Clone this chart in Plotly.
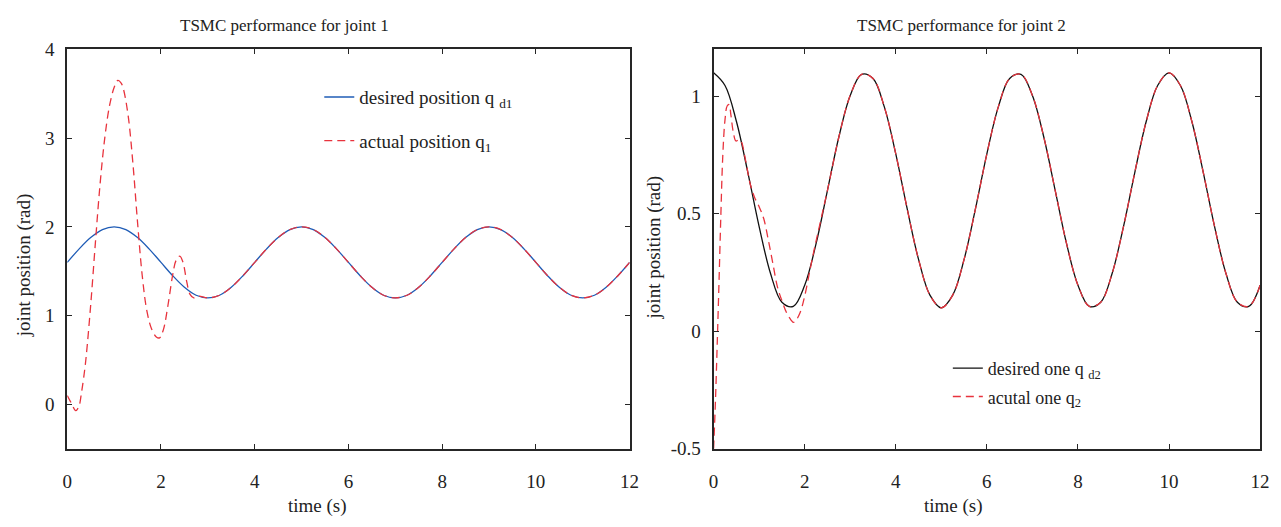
import plotly.graph_objects as go

# ---------------- joint 1 ----------------
t_q1d = [i * 0.25 for i in range(49)]
q1_desired = [1.60, 1.75, 1.88, 1.97, 2.00, 1.97, 1.88, 1.75, 1.60, 1.45, 1.32, 1.23,
              1.20, 1.23, 1.32, 1.45, 1.60, 1.75, 1.88, 1.97, 2.00, 1.97, 1.88, 1.75,
              1.60, 1.45, 1.32, 1.23, 1.20, 1.23, 1.32, 1.45, 1.60, 1.75, 1.88, 1.97,
              2.00, 1.97, 1.88, 1.75, 1.60, 1.45, 1.32, 1.23, 1.20, 1.23, 1.32, 1.45,
              1.60]

t_q1a = [0.00, 0.05, 0.10, 0.18, 0.25, 0.30, 0.35, 0.40, 0.50, 0.60, 0.70, 0.80,
         0.90, 1.00, 1.08, 1.15, 1.20, 1.30, 1.40, 1.50, 1.60, 1.70, 1.80, 1.90,
         1.97, 2.05, 2.15, 2.25, 2.32, 2.40, 2.47, 2.55, 2.62, 2.70, 2.80,
         3.00, 3.25, 3.50, 3.75, 4.00, 4.25, 4.50, 4.75, 5.00, 5.25, 5.50, 5.75,
         6.00, 6.25, 6.50, 6.75, 7.00, 7.25, 7.50, 7.75, 8.00, 8.25, 8.50, 8.75,
         9.00, 9.25, 9.50, 9.75, 10.00, 10.25, 10.50, 10.75, 11.00, 11.25, 11.50,
         11.75, 12.00]
q1_actual = [0.10, 0.05, 0.00, -0.07, -0.02, 0.12, 0.30, 0.52, 1.12, 1.82, 2.48, 3.00,
             3.36, 3.57, 3.65, 3.62, 3.55, 3.25, 2.72, 2.05, 1.45, 1.05, 0.85, 0.76,
             0.75, 0.84, 1.12, 1.46, 1.62, 1.67, 1.60, 1.38, 1.24, 1.20, 1.22,
             1.20, 1.23, 1.32, 1.45, 1.60, 1.75, 1.88, 1.97, 2.00, 1.97, 1.88, 1.75,
             1.60, 1.45, 1.32, 1.23, 1.20, 1.23, 1.32, 1.45, 1.60, 1.75, 1.88, 1.97,
             2.00, 1.97, 1.88, 1.75, 1.60, 1.45, 1.32, 1.23, 1.20, 1.23, 1.32,
             1.45, 1.60]

# ---------------- joint 2 ----------------
t_q2d = [i * 0.25 for i in range(49)]
q2_desired = [1.100, 1.046, 0.894, 0.678, 0.446, 0.246, 0.124, 0.106, 0.196, 0.373,
              0.600, 0.827, 1.004, 1.094, 1.076, 0.954, 0.755, 0.522, 0.306, 0.154,
              0.100, 0.154, 0.306, 0.522, 0.755, 0.954, 1.076, 1.094, 1.004, 0.827,
              0.600, 0.373, 0.196, 0.106, 0.124, 0.246, 0.446, 0.678, 0.894, 1.046,
              1.100, 1.046, 0.894, 0.678, 0.446, 0.246, 0.124, 0.106, 0.196]

t_q2a = [0.00, 0.04, 0.08, 0.12, 0.16, 0.20, 0.25, 0.30, 0.34, 0.38, 0.43, 0.49,
         0.55, 0.60, 0.70, 0.80, 0.90, 1.00, 1.10, 1.20, 1.30, 1.40, 1.50, 1.60,
         1.70, 1.75, 1.80, 1.90, 2.00, 2.10, 2.20,
         2.50, 2.75, 3.00, 3.25, 3.50, 3.75, 4.00, 4.25, 4.50, 4.75, 5.00, 5.25,
         5.50, 5.75, 6.00, 6.25, 6.50, 6.75, 7.00, 7.25, 7.50, 7.75, 8.00, 8.25,
         8.50, 8.75, 9.00, 9.25, 9.50, 9.75, 10.00, 10.25, 10.50, 10.75, 11.00,
         11.25, 11.50, 11.75, 12.00]
q2_actual = [-0.50, -0.30, -0.05, 0.22, 0.50, 0.74, 0.90, 0.96, 0.965, 0.92, 0.85, 0.81,
             0.815, 0.81, 0.73, 0.63, 0.57, 0.53, 0.48, 0.39, 0.29, 0.19, 0.13, 0.08,
             0.048, 0.038, 0.044, 0.08, 0.15, 0.245, 0.34,
             0.600, 0.827, 1.004, 1.094, 1.076, 0.954, 0.755, 0.522, 0.306, 0.154,
             0.100, 0.154, 0.306, 0.522, 0.755, 0.954, 1.076, 1.094, 1.004, 0.827,
             0.600, 0.373, 0.196, 0.106, 0.124, 0.246, 0.446, 0.678, 0.894, 1.046,
             1.100, 1.046, 0.894, 0.678, 0.446, 0.246, 0.124, 0.106, 0.196]

x_ticks = [0, 2, 4, 6, 8, 10, 12]
y1_ticks = [0, 1, 2, 3, 4]
y2_ticks = [-0.5, 0, 0.5, 1]
y2_ticklabels = ["-0.5", "0", "0.5", "1"]

W, H = 1281, 527
SERIF = "Liberation Serif, Times New Roman, serif"
BLUE = "#1f5cb6"
RED = "#e8333d"
BLACK = "#111111"
FRAME = "#262626"
DASH = "8px,5px"

fig = go.Figure()

fig.add_trace(go.Scatter(x=t_q1d, y=q1_desired, mode="lines", line_shape="spline",
                         line=dict(color=BLUE, width=1.3),
                         name="desired position q <sub>d1</sub>",
                         xaxis="x", yaxis="y", legend="legend", legendgroup="a"))
fig.add_trace(go.Scatter(x=t_q1a, y=q1_actual, mode="lines", line_shape="spline",
                         line=dict(color=RED, width=1.3, dash=DASH),
                         name="actual position q<sub>1</sub>",
                         xaxis="x", yaxis="y", legend="legend", legendgroup="b"))
fig.add_trace(go.Scatter(x=t_q2d, y=q2_desired, mode="lines", line_shape="spline",
                         line=dict(color=BLACK, width=1.3),
                         name="desired one q <sub>d2</sub>",
                         xaxis="x2", yaxis="y2", legend="legend2", legendgroup="c"))
fig.add_trace(go.Scatter(x=t_q2a, y=q2_actual, mode="lines", line_shape="spline",
                         line=dict(color=RED, width=1.3, dash=DASH),
                         name="acutal one q<sub>2</sub>",
                         xaxis="x2", yaxis="y2", legend="legend2", legendgroup="d"))

axis_common = dict(showgrid=False, zeroline=False, showline=True, linecolor=FRAME,
                   linewidth=2, mirror="ticks", ticks="inside", ticklen=5, tickwidth=1,
                   tickcolor=FRAME, tickfont=dict(family=SERIF, size=19, color="#222"))

y_bot = 1 - 457 / H
y_top = 1 - 41 / H

fig.update_layout(
    width=W, height=H,
    margin=dict(l=0, r=0, t=0, b=0),
    paper_bgcolor="white", plot_bgcolor="white",
    font=dict(family=SERIF, color="#222"),
    xaxis=dict(domain=[63 / W, 632 / W], range=[0, 12], tickvals=x_ticks,
               anchor="y", ticklabelstandoff=14, **axis_common),
    yaxis=dict(domain=[y_bot, y_top], range=[-0.5, 4], tickvals=y1_ticks,
               anchor="x", ticklabelstandoff=7, **axis_common),
    xaxis2=dict(domain=[717 / W, 1270 / W], range=[0, 12], tickvals=x_ticks,
                anchor="y2", ticklabelstandoff=14, **axis_common),
    yaxis2=dict(domain=[y_bot, y_top], range=[-0.5, 1.2], tickvals=y2_ticks,
                ticktext=y2_ticklabels, anchor="x2", ticklabelstandoff=7, **axis_common),
    legend=dict(x=318 / W, y=1 - 71 / H, xanchor="left", yanchor="top",
                bgcolor="rgba(0,0,0,0)", borderwidth=0, tracegroupgap=16,
                font=dict(family=SERIF, size=19, color="#222")),
    legend2=dict(x=954 / W, y=1 - 354 / H, xanchor="left", yanchor="top",
                 bgcolor="rgba(0,0,0,0)", borderwidth=0, tracegroupgap=2,
                 font=dict(family=SERIF, size=18, color="#222")),
    showlegend=True,
)

annotations = [
    dict(text="TSMC performance for joint 1", x=283 / W, y=1 - 16 / H, size=17),
    dict(text="TSMC performance for joint 2", x=968 / W, y=1 - 16 / H, size=17),
    dict(text="time (s)", x=316 / W, y=1 - 517 / H, size=19),
    dict(text="time (s)", x=960 / W, y=1 - 517 / H, size=19),
    dict(text="joint position (rad)", x=20 / W, y=1 - 266 / H, size=19, angle=-90),
    dict(text="joint position (rad)", x=657 / W, y=1 - 248 / H, size=19, angle=-90),
]
for a in annotations:
    fig.add_annotation(text=a["text"], x=a["x"], y=a["y"], xref="paper", yref="paper",
                       xanchor="center", yanchor="middle", showarrow=False,
                       textangle=a.get("angle", 0),
                       font=dict(family=SERIF, size=a["size"], color="#222"))

fig.write_html("out.html")
